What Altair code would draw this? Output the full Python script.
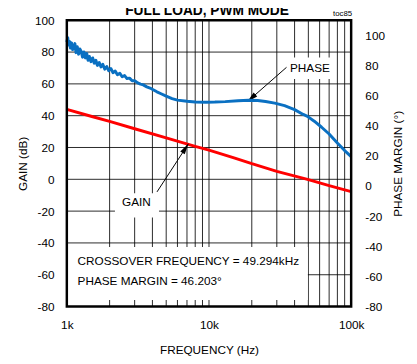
import altair as alt
import pandas as pd

# ---------------- data ----------------
gain_freq = [1000, 1500, 2000, 3000, 5000, 8000, 10000, 15000, 20000, 30000, 49300, 70000, 100000]
gain_db = [44.0, 39.5, 36.4, 31.8, 26.0, 20.7, 18.4, 13.5, 9.8, 5.0, 0.0, -4.0, -7.7]

phase_freq = [1000, 1015, 1030, 1045, 1060, 1080, 1100, 1120, 1140, 1160, 1185, 1210, 1235,
              1260, 1290, 1320, 1350, 1380, 1410, 1440, 1480, 1520, 1560, 1600, 1640, 1690,
              1740, 1790, 1850, 1910, 1970, 2040, 2110, 2190, 2270, 2360, 2450, 2550, 2650,
              2760, 2880, 3000, 3150, 3300, 3450, 3650, 3850, 4050, 4300, 4600, 5000, 5500,
              6000, 7000, 8000, 9500, 11000, 13000, 16000, 19000, 22000, 25000, 29000, 34000,
              40000, 46000, 49300, 55000, 62000, 70000, 80000, 90000, 100000]
phase_deg = [95.5, 98.5, 93.5, 96.0, 91.5, 95.0, 90.5, 92.0, 94.5, 88.5, 92.5, 87.5, 91.0,
             89.5, 85.5, 89.0, 85.0, 88.0, 83.5, 86.0, 82.5, 85.0, 81.5, 83.5, 80.0, 82.0,
             79.0, 80.8, 77.5, 79.3, 76.5, 78.0, 75.2, 76.3, 73.8, 74.8, 72.5, 73.3, 71.3,
             71.6, 69.8, 69.9, 68.4, 67.6, 67.1, 65.8, 65.0, 63.9, 62.5, 61.2, 59.6, 58.0,
             57.0, 56.2, 55.8, 55.6, 55.7, 56.0, 56.6, 56.9, 56.7, 56.1, 55.0, 53.3,
             50.7, 47.5, 46.2, 43.0, 39.0, 34.5, 28.5, 23.5, 19.5]

grid_freq = [2000, 3000, 4000, 5000, 6000, 7000, 8000, 9000, 10000,
             20000, 30000, 40000, 50000, 60000, 70000, 80000, 90000]
grid_db = [-60, -40, -20, 0, 20, 40, 60, 80]
gain_ticks = [-80, -60, -40, -20, 0, 20, 40, 60, 80, 100]
phase_ticks = [-80, -60, -40, -20, 0, 20, 40, 60, 80, 100]
freq_ticks = [1000, 10000, 100000]

title_text = "FULL LOAD, PWM MODE"
toc_text = "toc85"
gain_label = "GAIN"
phase_label = "PHASE"
info_lines = ["CROSSOVER FREQUENCY = 49.294kHz", "PHASE MARGIN = 46.203°"]

# ---------------- styling ----------------
FONT = "Liberation Sans"
W, H = 290, 292
xscale = alt.Scale(type="log", domain=[1000, 100000], nice=False)
yscale = alt.Scale(domain=[-80, 100], nice=False, zero=False)
pscale = alt.Scale(domain=[-80, 110], nice=False, zero=False)
HYPHEN = "replace(datum.label, '\u2212', '-')"

xaxis = alt.Axis(values=freq_ticks, format="~s", title="FREQUENCY (Hz)", grid=False,
                 domain=False, ticks=False, labelPadding=13, labelFlush=False,
                 labelOverlap=False, labelFont=FONT, labelFontSize=12, labelColor="black",
                 titleFont=FONT, titleFontSize=12, titleFontWeight="normal", titleColor="black",
                 titleX=145, titleY=44, titleBaseline="middle", titleAlign="center")
yaxis = alt.Axis(values=gain_ticks, orient="left", title="GAIN (dB)", grid=False,
                 domain=False, ticks=False, labelPadding=13, labelFlush=False,
                 labelOverlap=False, labelFont=FONT, labelFontSize=12, labelColor="black",
                 labelExpr=HYPHEN,
                 titleFont=FONT, titleFontSize=12, titleFontWeight="normal", titleColor="black",
                 titleX=-45, titleY=146, titleAngle=270, titleBaseline="middle",
                 titleAlign="center")
paxis = alt.Axis(values=phase_ticks, orient="right", title="PHASE MARGIN (°)", grid=False,
                 domain=False, ticks=False, labelPadding=14, labelFlush=False,
                 labelOverlap=False, labelFont=FONT, labelFontSize=12, labelColor="black",
                 labelExpr=HYPHEN,
                 titleFont=FONT, titleFontSize=12, titleFontWeight="normal", titleColor="black",
                 titleX=47, titleY=146, titleAngle=270, titleBaseline="middle",
                 titleAlign="center")


def X(field="f"):
    return alt.X(f"{field}:Q", scale=xscale, axis=xaxis)


def Y(field="g"):
    return alt.Y(f"{field}:Q", scale=yscale, axis=yaxis)


GRID = dict(color="black", strokeWidth=1, opacity=0.85)

vgrid = alt.Chart(pd.DataFrame({"f": grid_freq})).mark_rule(**GRID).encode(
    x=X(), y=alt.value(0), y2=alt.value(H))
hgrid = alt.Chart(pd.DataFrame({"g": grid_db})).mark_rule(**GRID).encode(
    y=Y(), x=alt.value(0), x2=alt.value(W))

# white patches behind annotation texts
boxes_df = pd.DataFrame({
    "f": [1000, 2180, 35500],
    "f2": [49600, 4450, 72000],
    "g": [-42.6, -8.8, 76.6],
    "g2": [-75.9, -24.0, 63.0],
})
boxes = alt.Chart(boxes_df).mark_rect(color="white").encode(
    x=X(), x2=alt.X2("f2"), y=Y(), y2=alt.Y2("g2"))

gain_line = alt.Chart(pd.DataFrame({"f": gain_freq, "g": gain_db})).mark_line(
    color="#FF0000", strokeWidth=3).encode(x=X(), y=Y())

# arrows
arrows_df = pd.DataFrame({
    "f": [4310, 35100], "g": [-7.9, 70.4],
    "f2": [7160, 18600], "g2": [22.3, 48.8],
})
arrow_lines = alt.Chart(arrows_df).mark_rule(color="black", strokeWidth=1).encode(
    x=X(), x2=alt.X2("f2"), y=Y(), y2=alt.Y2("g2"))
heads_df = pd.DataFrame({"f": [7160, 18600], "g": [22.3, 48.8], "a": [33, 228.8]})
arrow_heads = alt.Chart(heads_df).mark_point(
    shape="M0,0L0.5,2L-0.5,2Z", filled=True, color="black", opacity=1, size=121,
    strokeWidth=0).encode(x=X(), y=Y(), angle=alt.Angle("a:Q", scale=None))

labels_df = pd.DataFrame({"f": [3090, 51300], "g": [-14.1, 69.8],
                          "t": [gain_label, phase_label]})
labels = alt.Chart(labels_df).mark_text(font=FONT, fontSize=12, color="black",
                                        align="center", baseline="middle").encode(
    x=X(), y=Y(), text="t:N")

info_df = pd.DataFrame({"f": [1190, 1190], "g": [-51.7, -64.0], "t": info_lines})
info = alt.Chart(info_df).mark_text(font=FONT, fontSize=12, color="black",
                                    align="left", baseline="middle").encode(
    x=X(), y=Y(), text="t:N")

left_layer = alt.layer(vgrid, hgrid, boxes, gain_line, arrow_lines, arrow_heads, labels, info)

phase_line = alt.Chart(pd.DataFrame({"f": phase_freq, "p": phase_deg})).mark_line(
    color="#0A70C2", strokeWidth=3, strokeJoin="round").encode(
    x=X(), y=alt.Y("p:Q", scale=pscale, axis=paxis))

one = pd.DataFrame({"k": [0]})
frame = alt.Chart(one).mark_rect(fillOpacity=0, stroke="black", strokeWidth=2.5).encode(
    x=alt.value(0), x2=alt.value(W), y=alt.value(0), y2=alt.value(H))
title = alt.Chart(one).mark_text(text=title_text, font=FONT, fontSize=14, fontWeight="bold",
                                 color="black", align="center", baseline="alphabetic").encode(
    x=alt.value(143), y=alt.value(-5))
toc = alt.Chart(one).mark_text(text=toc_text, font=FONT, fontSize=8, color="black",
                               align="right", baseline="alphabetic").encode(
    x=alt.value(291), y=alt.value(-4.5))

chart = alt.layer(left_layer, phase_line, frame, title, toc).resolve_scale(
    y="independent").properties(
    width=W, height=H,
    autosize=alt.AutoSizeParams(type="none"),
    padding={"left": 60, "top": 9, "right": 59, "bottom": 50},
    background="white",
).configure_view(strokeWidth=0)

chart.save("out.html", embed_options={"renderer": "svg", "actions": False})
